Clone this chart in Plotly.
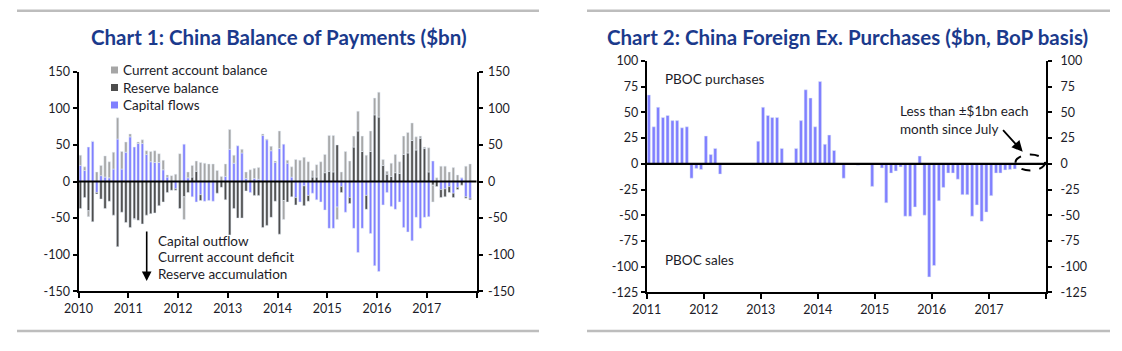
import pandas as pd
import plotly.graph_objects as go

# ---------------- Data ----------------
# Chart 1: China Balance of Payments ($bn), monthly Jan 2010 - Nov 2017
capital_flows = [22, 15, 47, 55, -15, 8, 6, 5, 17, 58, 17, 40,
                 61, 47, 52, 52, 37, 27, 26, 26, 16, 6, 0, -10,
                 0, 51, 5, -21, -28, -18, -27, -26, -27, 0, 0, 7,
                 44, 25, 49, 39, 4, -15, 4, 3, 63, 57, 42, 26,
                 45, 51, 25, 6, -22, -28, -6, -19, -16, -25, -28, -39,
                 -64, -64, -35, -7, -42, -22, -64, -97, -64, -19, -71, -115,
                 -123, -32, -15, -34, -38, -28, -63, -69, -81, -49, -64, -49,
                 -48, 28, 0, -11, -10, -7, -16, -8, 5, -21, -23]
current_account = [14, 5, -8, 0, 13, 14, 29, 22, 23, 29, 24, 14,
                   4, -1, 2, 5, 5, 14, 16, 12, 13, 3, 8, 10,
                   38, -31, 8, 16, 14, 26, 25, 24, 24, 15, 7, 17,
                   27, 11, 0, 5, 9, 16, 14, 16, 2, 1, 6, 2,
                   24, -26, 4, 14, 30, 29, 33, 27, 9, 17, 27, 25,
                   49, 50, -17, 13, 41, 28, 15, 27, 21, 36, 28, 23,
                   34, 8, 4, 18, 25, 16, 25, 28, 24, 18, 3, 2,
                   33, -23, 5, 21, 21, 13, 19, 9, 0, 21, 24]
reserve_balance = [-37, -22, -40, -55, -2, -24, -37, -27, -46, -89, -42, -56,
                   -63, -51, -53, -58, -46, -44, -43, -33, -28, -15, -12, -2,
                   -37, -21, -15, 6, 14, -8, 0, 0, 0, -16, -8, -25,
                   -73, -37, -50, -50, -13, 0, -19, -19, -63, -60, -49, -27,
                   -72, -26, -28, -21, -10, 0, -27, -8, 6, 6, 0, 12,
                   14, 13, 50, -8, 0, -8, 47, 69, 41, -19, 41, 91,
                   88, 22, 10, 7, 12, 11, 37, 39, 56, 43, 59, 45,
                   13, -5, -7, -11, -11, -8, -6, -3, -5, -2, -2]
months1 = pd.date_range("2010-01-01", periods=len(capital_flows), freq="MS") + pd.Timedelta(days=14)
years1 = ["2010", "2011", "2012", "2013", "2014", "2015", "2016", "2017"]
yticks1 = [-150, -100, -50, 0, 50, 100, 150]

# Chart 2: China foreign exchange purchases ($bn, BoP basis), monthly Jan 2011 - Nov 2017
fx_purchases = [67, 36, 55, 45, 47, 42, 42, 35, 36, -14, -4.5, -5.5,
                27, 9, 15, -10, 0, 0, 0, 0, 0, 0, -1, 22,
                55, 47, 45, 45, 15, -0.5, 0, 15, 42, 72, 64, 36,
                80, 19, 28, 13, 0, -14, 0, 0, -1.5, 0, 0, -22,
                0, -4, -38, -9, -7, -3, -51, -51, -42, 7.5, -50, -110,
                -99, -36, -23, -9, -9, -15, -30, -30, -51, -40, -56, -47,
                -31, -9, -9, -6, -5.5, -5, 0.6, -0.4, 0.5, -0.3, 0.7]
months2 = pd.date_range("2011-01-01", periods=len(fx_purchases), freq="MS") + pd.Timedelta(days=14)
years2 = ["2011", "2012", "2013", "2014", "2015", "2016", "2017"]
yticks2 = [-125, -100, -75, -50, -25, 0, 25, 50, 75, 100]

# ---------------- Styling ----------------
W, H = 1122, 351
FONT = "Lato"
TXT = "#1c1c28"
TITLE_C = "#1B3A8C"
BLUE = "#8080FF"
LGRAY = "#A6A6A6"
DGRAY = "#4D4D4D"
DAY = 86400000


def px(x):
    return x / W


def py(y):
    return 1 - y / H


def lab(v):
    return str(v)


fig = go.Figure()

# Chart 1 bars (stack order: capital, reserve, current account)
fig.add_trace(go.Bar(x=months1, y=capital_flows, name="Capital flows", marker_color=BLUE,
                     width=18 * DAY, xaxis="x", yaxis="y", showlegend=False))
fig.add_trace(go.Bar(x=months1, y=reserve_balance, name="Reserve balance", marker_color=DGRAY,
                     width=18 * DAY, xaxis="x", yaxis="y", showlegend=False))
fig.add_trace(go.Bar(x=months1, y=current_account, name="Current account balance", marker_color=LGRAY,
                     width=18 * DAY, xaxis="x", yaxis="y", showlegend=False))
fig.add_trace(go.Scatter(x=[], y=[], xaxis="x", yaxis="y3", showlegend=False, hoverinfo="skip"))

# Chart 2 bars
fig.add_trace(go.Bar(x=months2, y=fx_purchases, name="FX purchases", marker_color=BLUE,
                     width=20 * DAY, xaxis="x2", yaxis="y2", showlegend=False))
fig.add_trace(go.Scatter(x=[], y=[], xaxis="x2", yaxis="y4", showlegend=False, hoverinfo="skip"))

tickfont = dict(family=FONT, size=12.5, color=TXT)
common_x = dict(type="date", showgrid=False, zeroline=False, showline=True, linecolor="black",
                linewidth=2, ticks="outside", ticklen=5, tickwidth=2, tickcolor="black",
                tickfont=tickfont, fixedrange=True, automargin=False)
common_y = dict(showgrid=False, zeroline=False, showline=True, linecolor="black", linewidth=2,
                ticks="outside", ticklen=4, tickwidth=2, tickcolor="black", tickfont=tickfont,
                fixedrange=True, automargin=False)

x1_ticks = [f"{y}-01-01" for y in range(2010, 2019)]
x2_ticks = [f"{y}-01-01" for y in range(2011, 2019)]

fig.update_layout(
    width=W, height=H, margin=dict(l=0, r=0, t=0, b=0, pad=0, autoexpand=False),
    paper_bgcolor="white", plot_bgcolor="white",
    barmode="relative", showlegend=False,
    font=dict(family=FONT, color=TXT),
    xaxis=dict(common_x, domain=[px(78.5), px(476.5)], anchor="y",
               range=["2010-01-01", "2018-01-01"], tickvals=x1_ticks, ticktext=years1 + [""]),
    yaxis=dict(common_y, domain=[py(291.3), py(71.7)], anchor="x", range=[-150, 150],
               tickvals=yticks1, ticktext=[lab(v) for v in yticks1]),
    yaxis3=dict(common_y, overlaying="y", anchor="x", side="right", range=[-150, 150],
                tickvals=yticks1, ticktext=[lab(v) for v in yticks1], ticklabelstandoff=3),
    xaxis2=dict(common_x, domain=[px(646.7), px(1046)], anchor="y2",
                range=["2011-01-01", "2018-01-01"], tickvals=x2_ticks, ticktext=years2 + [""]),
    yaxis2=dict(common_y, domain=[py(292.3), py(61)], anchor="x2", range=[-125, 100],
                tickvals=yticks2, ticktext=[lab(v) for v in yticks2]),
    yaxis4=dict(common_y, overlaying="y2", anchor="x2", side="right", range=[-125, 100],
                tickvals=yticks2, ticktext=[lab(v) for v in yticks2], ticklabelstandoff=6),
)

shapes = []
# horizontal rules
for x0, x1 in [(17, 539), (587, 1110)]:
    for yy in (10.7, 331):
        shapes.append(dict(type="line", xref="paper", yref="paper", x0=px(x0), x1=px(x1),
                           y0=py(yy), y1=py(yy), line=dict(color="#BDBDBD", width=2.5)))
# zero lines on top of bars
shapes.append(dict(type="line", xref="x domain", yref="y", x0=0, x1=1, y0=0, y1=0,
                   line=dict(color="black", width=2.2), layer="above"))
shapes.append(dict(type="line", xref="x2 domain", yref="y2", x0=0, x1=1, y0=0, y1=0,
                   line=dict(color="black", width=2.2), layer="above"))
# legend squares
for yc, col in [(70, LGRAY), (87.5, DGRAY), (105, BLUE)]:
    shapes.append(dict(type="rect", xref="paper", yref="paper", x0=px(111), x1=px(118),
                       y0=py(yc + 3.5), y1=py(yc - 3.5), fillcolor=col, line=dict(width=0)))
# dashed ellipse in chart 2
shapes.append(dict(type="circle", xref="paper", yref="paper", x0=px(1015.5), x1=px(1045),
                   y0=py(170.5), y1=py(154.5), line=dict(color="black", width=2, dash="dash")))
fig.update_layout(shapes=shapes)

ann = []
tfont = dict(family=FONT, size=20.5, color=TITLE_C)
ann.append(dict(text="<b>Chart 1: China Balance of Payments ($bn)</b>", x=px(279), y=py(37),
                xref="paper", yref="paper", showarrow=False, font=tfont, xanchor="center", yanchor="middle"))
ann.append(dict(text="<b>Chart 2: China Foreign Ex. Purchases ($bn, BoP basis)</b>", x=px(847), y=py(37),
                xref="paper", yref="paper", showarrow=False, font=tfont, xanchor="center", yanchor="middle"))
bfont = dict(family=FONT, size=13.5, color=TXT)
for yc, t in [(70, "Current account balance"), (87.5, "Reserve balance"), (105, "Capital flows")]:
    ann.append(dict(text=t, x=px(121), y=py(yc), xref="paper", yref="paper", showarrow=False,
                    font=bfont, xanchor="left", yanchor="middle"))
for yc, t in [(240.5, "Capital outflow"), (257, "Current account deficit"), (273.5, "Reserve accumulation")]:
    ann.append(dict(text=t, x=px(156), y=py(yc), xref="paper", yref="paper", showarrow=False,
                    font=bfont, xanchor="left", yanchor="middle"))
# downward arrow chart 1
ann.append(dict(text="", x=px(146.7), y=py(281), xref="paper", yref="paper", showarrow=True,
                ax=0, ay=-51, axref="pixel", ayref="pixel", arrowhead=2, arrowsize=1.2,
                arrowwidth=1.6, arrowcolor="black"))
# chart 2 texts
ann.append(dict(text="PBOC purchases", x=px(663), y=py(79), xref="paper", yref="paper",
                showarrow=False, font=bfont, xanchor="left", yanchor="middle"))
ann.append(dict(text="PBOC sales", x=px(663), y=py(260), xref="paper", yref="paper",
                showarrow=False, font=bfont, xanchor="left", yanchor="middle"))
ann.append(dict(text="Less than \u00b1$1bn each<br>month since July", x=px(898), y=py(120),
                xref="paper", yref="paper", showarrow=False, font=bfont, xanchor="left",
                yanchor="middle", align="left"))
ann.append(dict(text="", x=px(1022.7), y=py(151.7), xref="paper", yref="paper", showarrow=True,
                ax=-21, ay=-23, axref="pixel", ayref="pixel", arrowhead=2, arrowsize=1.2,
                arrowwidth=1.8, arrowcolor="black"))
fig.update_layout(annotations=ann)

fig.write_html("out.html")
